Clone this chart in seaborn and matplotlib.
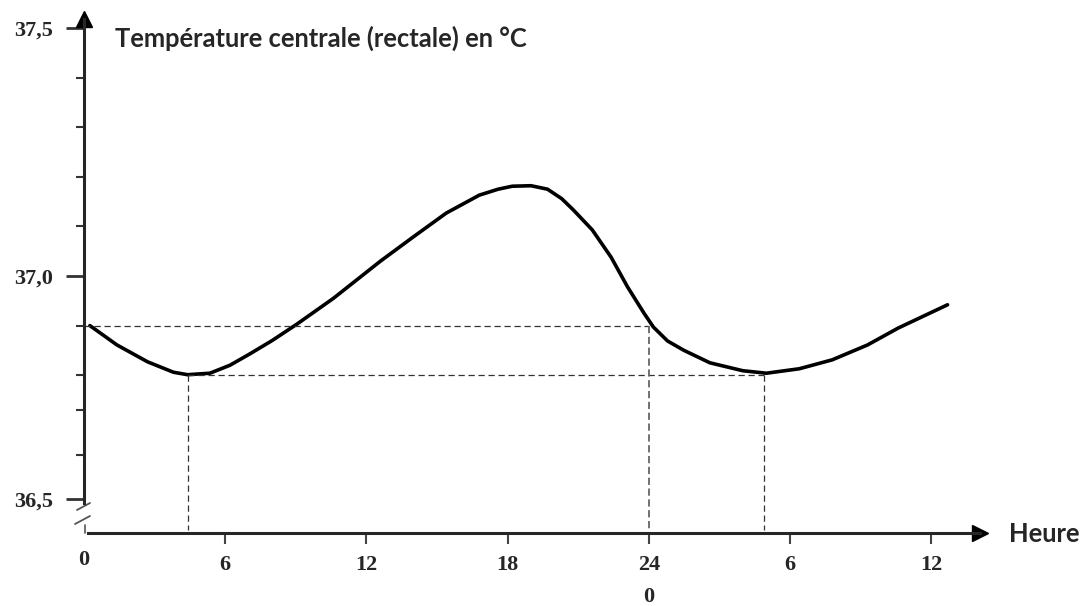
import numpy as np
import matplotlib.pyplot as plt
import pandas as pd
import seaborn as sns

# central temperature over ~36 h
hours = [0.25, 1.4, 2.7, 3.8, 4.4, 5.35, 6.2, 7.05, 8.0, 9.05, 10.6, 11.4, 12.6, 14.0,
         15.4, 16.8, 17.6, 18.2, 19.0, 19.7, 20.3, 20.8, 21.6, 22.4, 23.1, 23.8, 24.2,
         24.8, 25.5, 26.6, 28.0, 29.0, 30.4, 31.8, 33.3, 34.6, 36.7]
temps = [36.90, 36.861, 36.827, 36.806, 36.801, 36.804, 36.82, 36.843, 36.87, 36.903,
         36.955, 36.985, 37.03, 37.079, 37.127, 37.163, 37.175, 37.181, 37.182, 37.175,
         37.156, 37.133, 37.093, 37.038, 36.978, 36.925, 36.897, 36.869, 36.85, 36.825,
         36.809, 36.804, 36.813, 36.831, 36.861, 36.895, 36.942]

x_ticks = [6, 12, 18, 24, 30, 36]
x_labels = ["6", "12", "18", "24", "6", "12"]
y_major = [36.55, 37.0, 37.5]
y_labels = ["36,5", "37,0", "37,5"]
y_minor = [36.64, 36.73, 36.8, 36.9, 37.1, 37.2, 37.3, 37.4]

# reading lines
t_high, t_low = 36.9, 36.8
h_min1, h_24, h_min2 = 4.4, 24.0, 28.9

df = pd.DataFrame({"heure": hours, "temp": temps})

sns.set_style("white")
serif = ["Liberation Serif", "DejaVu Serif"]
sans = ["Lato", "DejaVu Sans"]

W, H = 1084, 606
fig = plt.figure(figsize=(W / 100, H / 100), dpi=100)
# axes box in pixels: y axis at x=84, x axis at y=533
x0, x1, y0, y1 = 84, 980, 533, 19
ax = fig.add_axes([x0 / W, (H - y0) / H, (x1 - x0) / W, (y0 - y1) / H])
px_h = 23.53   # pixels per hour
px_t = 496.0   # pixels per degree
ax.set_xlim(0, (x1 - x0) / px_h)
ax.set_ylim(37.0 - (y0 - 276) / px_t, 37.0 + (276 - y1) / px_t)
aw, ah = x1 - x0, y0 - y1

sns.lineplot(data=df, x="heure", y="temp", ax=ax, color="black", lw=2.6)

dash = dict(color="#333333", lw=0.9, ls=(0, (5, 3)))
ybot = ax.get_ylim()[0] + 0.006
ax.plot([0, h_24], [t_high, t_high], **dash)
ax.plot([h_min1, h_min2], [t_low, t_low], **dash)
ax.plot([h_min1, h_min1], [t_low, ybot], **dash)
ax.plot([h_24, h_24], [t_high, ybot], color="#666666", lw=1.3, ls=(0, (4, 2)))
ax.plot([h_min2, h_min2], [t_low, ybot], **dash)

for s in ["top", "right"]:
    ax.spines[s].set_visible(False)
ax.spines["left"].set_bounds(37.0 - (503 - 276) / px_t, ax.get_ylim()[1])
ax.spines["left"].set_linewidth(2.2)
ax.spines["bottom"].set_bounds(4 / px_h, ax.get_xlim()[1])
ax.spines["bottom"].set_linewidth(2.2)

# arrow heads
ax.plot(0, 1, "^k", ms=12, transform=ax.transAxes, clip_on=False)
ax.plot(1, 0, ">k", ms=12, transform=ax.transAxes, clip_on=False)

# axis break marks
def px(xp, yp):
    return (xp - x0) / aw, (y0 - yp) / ah

for (xa, ya), (xb, yb) in [((77, 510), (90, 503)), ((75, 524), (90, 516))]:
    pa, pb = px(xa, ya), px(xb, yb)
    ax.plot([pa[0], pb[0]], [pa[1], pb[1]], color="#555555", lw=1.3,
            transform=ax.transAxes, clip_on=False)
pa, pb = px(85, 525), px(85, 533)
ax.plot([pa[0], pb[0]], [pa[1], pb[1]], color="#555555", lw=1.2,
        transform=ax.transAxes, clip_on=False)

ax.set_yticks(y_major)
ax.set_yticklabels(y_labels)
ax.set_yticks(y_minor, minor=True)
ax.tick_params(axis="y", which="major", left=True, length=13, width=2, color="#333333", pad=9)
ax.tick_params(axis="y", which="minor", left=True, length=5.5, width=1.5, color="#333333")
ax.set_xticks(x_ticks)
ax.set_xticklabels(x_labels)
ax.tick_params(axis="x", which="major", bottom=True, length=8, width=1.5, color="#444444", pad=8)
for lab in ax.get_xticklabels() + ax.get_yticklabels():
    lab.set_family(serif)
    lab.set_fontweight("bold")
    lab.set_fontsize(16)

ax.text(0, 0, "0", transform=ax.get_xaxis_transform(), ha="center", va="center",
        family=serif, fontweight="bold", fontsize=16)
ax.texts[-1].set_position((0, -27 / ah))
ax.text(24, 0, "0", transform=ax.get_xaxis_transform(), ha="center", va="center",
        family=serif, fontweight="bold", fontsize=16)
ax.texts[-1].set_position((24, -64 / ah))

ax.set_xlabel("")
ax.set_ylabel("")

fig.text(115 / W, 1 - 47 / H, "Température centrale (rectale) en °C", ha="left", va="baseline",
         family=sans, fontweight="bold", fontsize=18.4)
fig.text(1009 / W, 1 - 542 / H, "Heure", ha="left", va="baseline",
         family=sans, fontweight="bold", fontsize=18.4)

fig.savefig("out.png", dpi=100)
